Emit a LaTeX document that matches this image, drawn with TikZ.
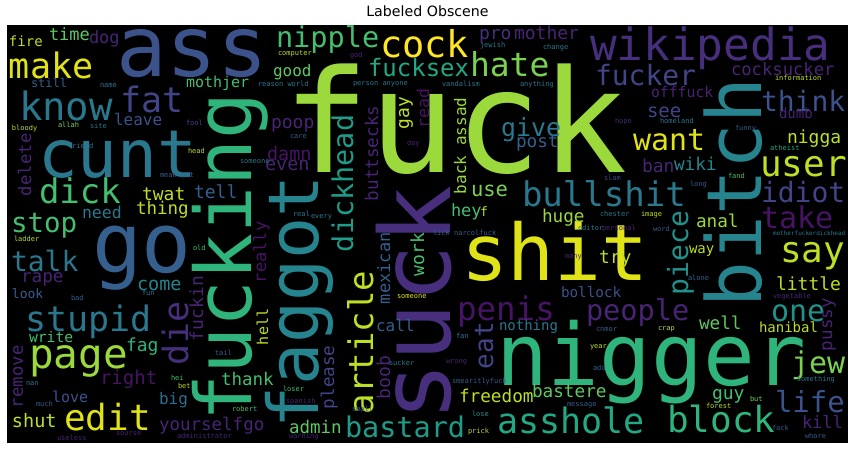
\documentclass[tikz,border=0pt]{standalone}
\usepackage{fontspec}
\setmainfont{DejaVu Sans}
\newfontfamily\wcf{DejaVu Sans Mono}
\definecolor{v05}{HTML}{471365}
\definecolor{v10}{HTML}{482475}
\definecolor{v15}{HTML}{472F7D}
\definecolor{v20}{HTML}{414487}
\definecolor{v25}{HTML}{3B528B}
\definecolor{v30}{HTML}{355F8D}
\definecolor{v35}{HTML}{2F6C8E}
\definecolor{v40}{HTML}{2A788E}
\definecolor{v45}{HTML}{25848E}
\definecolor{v50}{HTML}{21918C}
\definecolor{v55}{HTML}{1E9C89}
\definecolor{v60}{HTML}{22A884}
\definecolor{v65}{HTML}{2FB47C}
\definecolor{v70}{HTML}{44BF70}
\definecolor{v75}{HTML}{5EC962}
\definecolor{v80}{HTML}{7AD151}
\definecolor{v85}{HTML}{9BD93C}
\definecolor{v90}{HTML}{BDDF26}
\definecolor{v95}{HTML}{DFE318}
\definecolor{v100}{HTML}{FDE725}
\newcounter{wcn}
\tikzset{wd/.style={anchor=base west,inner sep=0pt,outer sep=0pt}}
\newcommand\cloudh[5]{\stepcounter{wcn}\node[wd,text=#4,font={\wcf\fontsize{#3}{#3}\selectfont}] (w\arabic{wcn}) at (#1,#2) {#5};}
\newcommand\cloudv[5]{\stepcounter{wcn}\node[wd,rotate=90,text=#4,font={\wcf\fontsize{#3}{#3}\selectfont}] (w\arabic{wcn}) at (#1,#2) {#5};}
\begin{document}
\begin{tikzpicture}[x=1pt,y=-1pt]
\useasboundingbox (0,0) rectangle (856,452);
\fill[white] (0,0) rectangle (856,452);
\node[anchor=base,inner sep=0pt,font={\fontsize{14.2}{14.2}\selectfont}] (title) at (427.5,17) {Labeled Obscene};
\fill[black] (7,25) rectangle (848,443);
\begin{scope}
\clip (7,25) rectangle (848,443);
% big words
\cloudh{283}{172}{143}{v85}{fuck}
\cloudh{116}{76}{84}{v25}{ass}
\cloudh{38}{177}{66}{v40}{cunt}
\cloudh{461}{280}{78}{v95}{shit}
\cloudh{496}{385}{86}{v65}{nigger}
\cloudv{251}{421}{78}{v65}{fucking}
\cloudv{318}{428}{70}{v45}{faggot}
\cloudv{450}{421}{98}{v15}{suck}
\cloudv{761}{307}{76}{v45}{bitch}
\cloudh{92}{272}{83}{v30}{go}
% medium words
\cloudh{9}{78}{35}{v95}{make}
\cloudh{19}{120}{39}{v40}{know}
\cloudh{120}{112}{35}{v20}{fat}
\cloudh{39}{203}{34}{v70}{dick}
\cloudh{11}{232}{27.5}{v70}{stop}
\cloudh{11}{271}{28}{v40}{talk}
\cloudh{25}{331}{35}{v40}{stupid}
\cloudh{29}{368}{41}{v85}{page}
\cloudh{64}{430}{36}{v95}{edit}
\cloudh{276}{48}{28.6}{v70}{nipple}
\cloudh{380}{58}{37}{v100}{cock}
\cloudh{368}{77}{24}{v60}{fucksex}
\cloudh{590}{60}{44.4}{v15}{wikipedia}
\cloudh{470}{76}{33}{v80}{hate}
\cloudh{595}{85}{28}{v20}{fucker}
\cloudh{501}{136}{25}{v40}{give}
\cloudh{522}{206}{34}{v40}{bullshit}
\cloudh{761}{111}{28}{v25}{think}
\cloudh{633}{150}{30}{v95}{want}
\cloudh{760}{176}{36}{v90}{user}
\cloudh{761}{202}{28}{v20}{idiot}
\cloudh{761}{228}{30}{v05}{take}
\cloudh{780}{262}{36}{v90}{say}
\cloudh{457}{320}{32.5}{v05}{penis}
\cloudh{586}{320}{28.6}{v10}{people}
\cloudh{771}{321}{30}{v50}{one}
\cloudh{791}{373}{30}{v80}{jew}
\cloudh{775}{412}{29}{v25}{life}
\cloudh{667}{432}{36}{v65}{block}
\cloudh{497}{433}{35}{v60}{asshole}
\cloudh{345}{437}{28.5}{v55}{bastard}
\cloudv{353}{252}{28.5}{v55}{dickhead}
\cloudv{373}{414}{34}{v90}{article}
\cloudv{493}{369}{26}{v20}{eat}
\cloudv{688}{295}{28}{v50}{piece}
\cloudv{188}{365}{35}{v15}{die}
% small words
\cloudh{49}{41}{17}{v75}{time}
\cloudh{89}{44}{17}{v10}{dog}
\cloudh{9}{47}{14}{v90}{fire}
\cloudh{31}{88}{12}{v30}{still}
\cloudh{186}{88}{15}{v70}{mothjer}
\cloudh{114}{125}{16}{v25}{leave}
\cloudh{142}{200}{18}{v90}{twat}
\cloudh{194}{198}{18}{v30}{tell}
\cloudh{136}{214}{17.5}{v90}{thing}
\cloudh{82}{218}{16.5}{v40}{need}
\cloudh{21}{282}{17.7}{v10}{rape}
\cloudh{137}{290}{18.5}{v45}{come}
\cloudh{12}{298}{13}{v30}{look}
\cloudh{29}{342}{14.7}{v70}{write}
\cloudh{126}{351}{18}{v65}{fag}
\cloudh{100}{384}{19}{v05}{right}
\cloudh{52}{402}{15}{v25}{love}
\cloudh{159}{404}{16}{v35}{big}
\cloudh{12}{427}{18.5}{v90}{shut}
\cloudh{159}{430}{17.5}{v10}{yourselfgo}
\cloudh{273}{77}{16}{v75}{good}
\cloudh{271}{128}{18}{v10}{poop}
\cloudh{267}{160}{18.5}{v05}{damn}
\cloudh{265}{170}{18.5}{v10}{even}
\cloudh{479}{40}{18}{v15}{pro}
\cloudh{514}{40}{18}{v10}{mother}
\cloudh{516}{147}{17.7}{v30}{post}
\cloudh{471}{196}{20.5}{v80}{use}
\cloudh{451}{216}{17}{v70}{hey}
\cloudh{480}{216}{13}{v90}{f}
\cloudh{542}{222}{17.7}{v85}{huge}
\cloudh{731}{75}{17.2}{v10}{cocksucker}
\cloudh{651}{97}{14.8}{v10}{offfuck}
\cloudh{647}{117}{19}{v20}{see}
\cloudh{779}{118}{14}{v10}{dumb}
\cloudh{787}{143}{18}{v90}{nigga}
\cloudh{642}{172}{18}{v10}{ban}
\cloudh{674}{170}{17.7}{v45}{wiki}
\cloudh{696}{227}{17.7}{v85}{anal}
\cloudh{599}{263}{18}{v90}{try}
\cloudh{561}{297}{14.3}{v25}{bollock}
\cloudh{499}{330}{14}{v40}{nothing}
\cloudh{699}{329}{17.7}{v75}{well}
\cloudh{759}{332}{14}{v90}{hanibal}
\cloudh{689}{253}{14}{v90}{way}
\cloudh{776}{290}{18}{v90}{little}
\cloudh{712}{399}{18}{v70}{guy}
\cloudh{802}{428}{17}{v10}{kill}
\cloudh{459}{402}{17.7}{v90}{freedom}
\cloudh{532}{397}{17.7}{v75}{bastere}
\cloudh{289}{433}{17.5}{v75}{admin}
\cloudh{221}{385}{17.5}{v70}{thank}
\cloudh{376}{331}{16}{v30}{call}
\cloudv{378}{201}{17.6}{v10}{buttsecks}
\cloudv{409}{129}{18}{v90}{gay}
\cloudv{429}{128}{16.5}{v05}{read}
\cloudv{466}{194}{16}{v85}{back assad}
\cloudv{266}{283}{17}{v05}{really}
\cloudv{268}{345}{15}{v90}{hell}
\cloudv{390}{304}{17}{v30}{mexican}
\cloudv{424}{276}{18}{v70}{work}
\cloudv{390}{399}{18}{v10}{boob}
\cloudv{334}{409}{17.6}{v20}{please}
\cloudv{832}{351}{17.5}{v10}{pussy}
\cloudv{31}{196}{17.3}{v10}{delete}
\cloudv{23}{408}{17.3}{v10}{remove}
\cloudv{203}{341}{18}{v10}{fuckin}
% tiny words
\cloudh{100}{88}{7}{v40}{name}
\cloudh{12}{130}{7}{v90}{bloody}
\cloudh{58}{127}{7}{v80}{allah}
\cloudh{90}{128}{7}{v40}{site}
\cloudh{186}{125}{7}{v20}{fool}
\cloudh{68}{148}{7}{v40}{friend}
\cloudh{188}{153}{7}{v90}{head}
\cloudh{160}{177}{7}{v30}{mean put}
\cloudh{278}{56}{7}{v90}{computer}
\cloudh{350}{57}{7}{v10}{god}
\cloudh{258}{86}{7}{v40}{reason world}
\cloudh{353}{85}{7}{v40}{person anyone}
\cloudh{480}{48}{7}{v40}{jewish}
\cloudh{543}{50}{7}{v40}{change}
\cloudh{442}{86}{7}{v40}{vandalism}
\cloudh{520}{86}{7}{v40}{anything}
\cloudh{290}{138}{7}{v30}{care}
\cloudh{407}{145}{7}{v10}{day}
\cloudh{240}{163}{7}{v40}{someone}
\cloudh{293}{216}{7}{v40}{real}
\cloudh{311}{218}{7}{v40}{every}
\cloudh{615}{123}{7}{v10}{hope}
\cloudh{604}{180}{7}{v20}{slam}
\cloudh{600}{216}{7}{v40}{chester}
\cloudh{578}{230}{7}{v40}{editor}
\cloudh{602}{230}{7}{v10}{personal}
\cloudh{433}{235}{7}{v30}{lick narcolfuck}
\cloudh{660}{123}{7}{v40}{homeland}
\cloudh{735}{130}{7}{v30}{funny}
\cloudh{775}{80}{7}{v90}{information}
\cloudh{770}{150}{7}{v60}{atheist}
\cloudh{728}{178}{7}{v70}{fand}
\cloudh{690}{186}{7}{v30}{long}
\cloudh{641}{216}{7}{v90}{image}
\cloudh{653}{231}{7}{v30}{word}
\cloudh{773}{235}{6}{v40}{motherfuckerdickhead}
\cloudh{688}{280}{7}{v30}{alone}
\cloudh{773}{298}{7}{v10}{vegetable}
\cloudh{658}{330}{7}{v90}{crap}
\cloudh{596}{331}{7}{v30}{cnmor}
\cloudh{797}{381}{7}{v40}{something}
\cloudh{750}{401}{7}{v80}{but}
\cloudh{706}{408}{7}{v90}{forest}
\cloudh{772}{430}{7}{v30}{fack}
\cloudh{805}{438}{7}{v30}{whore}
\cloudh{590}{348}{7}{v90}{year}
\cloudh{593}{370}{7}{v30}{add}
\cloudh{567}{406}{7}{v30}{message}
\cloudh{446}{363}{7}{v10}{wrong}
\cloudh{452}{383}{7}{v30}{smearitlyfuck}
\cloudh{456}{338}{7}{v40}{fan}
\cloudh{472}{416}{7}{v50}{lose}
\cloudh{468}{433}{7}{v90}{prick}
\cloudh{389}{365}{7}{v40}{sucker}
\cloudh{215}{355}{7}{v30}{tail}
\cloudh{283}{391}{7}{v70}{loser}
\cloudh{286}{403}{7}{v10}{spanish}
\cloudh{232}{411}{7}{v70}{robert}
\cloudh{352}{411}{7}{v30}{small}
\cloudh{177}{438}{7}{v10}{administrator}
\cloudh{289}{438}{7}{v10}{warning}
\cloudh{57}{440}{7}{v10}{useless}
\cloudh{116}{435}{7}{v10}{sourse}
\cloudh{14}{241}{7}{v90}{ladder}
\cloudh{193}{250}{7}{v70}{old}
\cloudh{71}{300}{7}{v30}{bad}
\cloudh{142}{295}{7}{v40}{fun}
\cloudh{26}{385}{7}{v40}{nan}
\cloudh{171}{380}{7}{v70}{hei}
\cloudh{178}{388}{7}{v90}{bet}
\cloudh{36}{406}{7}{v30}{much}
\cloudh{397}{298}{7}{v95}{someone}
\cloudh{565}{258}{7}{v10}{many}
\end{scope}
\end{tikzpicture}
\end{document}
